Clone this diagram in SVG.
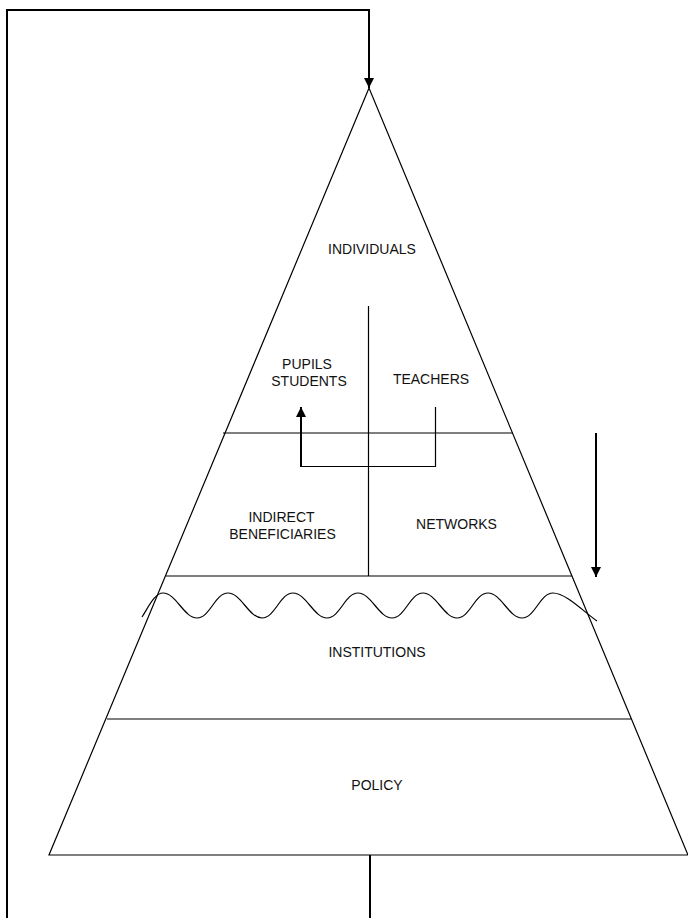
<svg xmlns="http://www.w3.org/2000/svg" width="688" height="918" viewBox="0 0 688 918">
<style>
.ln{fill:none;stroke:#000;stroke-width:1.2}
.thk{fill:none;stroke:#000;stroke-width:2}
.lbl{font-family:"Liberation Sans",Arial,sans-serif;font-size:14px;fill:#111;text-anchor:middle}
</style>
<defs>
<marker id="ah" viewBox="0 0 10 10" refX="10" refY="5" markerWidth="10" markerHeight="10" markerUnits="userSpaceOnUse" orient="auto">
<path d="M0,0 L10,5 L0,10 Z" fill="#000"/>
</marker>
</defs>
<rect width="688" height="918" fill="#fff"/>
<g id="pyramid">
<path class="ln" d="M369,88 L49,855 L688,855 Z"/>
<line class="ln" x1="223" y1="433" x2="513" y2="433"/>
<line class="ln" x1="166" y1="576" x2="572" y2="576"/>
<line class="ln" x1="107" y1="719" x2="631" y2="719"/>
<line class="ln" x1="368.5" y1="306" x2="368.5" y2="576"/>
<path class="ln" d="M142,617 C149,606 155,593 163,593 C176,593 184,618 197,618 C210,618 215,593 228,593 C241,593 249,618 262,618 C275,618 280,593 293,593 C306,593 314,618 327,618 C340,618 345,593 358,593 C371,593 379,618 392,618 C405,618 410,593 423,593 C436,593 444,618 457,618 C470,618 475,593 488,593 C501,593 509,618 522,618 C535,618 540,593 553,593 C566,593 584,612 597,621"/>
</g>
<g id="individuals"><text class="lbl" x="372" y="254">INDIVIDUALS</text></g>
<g id="pupils"><text class="lbl" x="307" y="369">PUPILS</text><text class="lbl" x="309" y="386">STUDENTS</text></g>
<g id="teachers"><text class="lbl" x="431" y="384">TEACHERS</text></g>
<g id="indirect"><text class="lbl" x="281.5" y="522">INDIRECT</text><text class="lbl" x="282.5" y="539">BENEFICIARIES</text></g>
<g id="networks"><text class="lbl" x="456.5" y="529">NETWORKS</text></g>
<g id="institutions"><text class="lbl" x="377" y="657">INSTITUTIONS</text></g>
<g id="policy"><text class="lbl" x="377" y="790">POLICY</text></g>
<g id="connectors">
<path class="thk" d="M370,918 L370,855"/>
<path class="thk" d="M7,918 L7,10 L369,10 L369,88" marker-end="url(#ah)"/>
<path class="ln" d="M435.5,407 L435.5,466.5 L301,466.5"/>
<path class="thk" d="M301,467 L301,407" marker-end="url(#ah)"/>
<path class="thk" d="M596,433 L596,577" marker-end="url(#ah)"/>
</g>
</svg>
